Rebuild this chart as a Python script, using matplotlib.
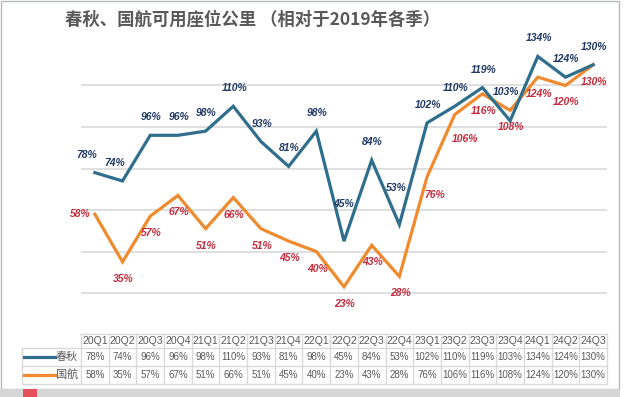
import matplotlib
matplotlib.use("Agg")
import matplotlib.pyplot as plt
from matplotlib.patches import Rectangle

plt.rcParams['font.family'] = ['Liberation Sans', 'Noto Sans CJK SC', 'DejaVu Sans']

# data (% of same quarter in 2019)
quarters = ['20Q1', '20Q2', '20Q3', '20Q4', '21Q1', '21Q2', '21Q3', '21Q4',
            '22Q1', '22Q2', '22Q3', '22Q4', '23Q1', '23Q2', '23Q3', '23Q4',
            '24Q1', '24Q2', '24Q3']
chunqiu = [78, 74, 96, 96, 98, 110, 93, 81, 98, 45, 84, 53,
           102, 110, 119, 103, 134, 124, 130]
airchina = [58, 35, 57, 67, 51, 66, 51, 45, 40, 23, 43, 28,
            76, 106, 116, 108, 124, 120, 130]
series_names = ['春秋', '国航']
title = '春秋、国航可用座位公里 （相对于2019年各季）'

W, H = 625, 397
BLUE, ORANGE = '#2F6E8D', '#F08A2E'
BLUE_TXT, RED_TXT = '#1F3864', '#C42B3C'
GRID, TXT = '#D9D9D9', '#595959'


def px_rect(x0, y0, x1, y1):
    """Figure rect from pixel box (top-left origin)."""
    return [x0 / W, 1 - y1 / H, (x1 - x0) / W, (y1 - y0) / H]


fig = plt.figure(figsize=(W / 100, H / 100), dpi=100)

# frame / background overlay in pixel coords
bg = fig.add_axes([0, 0, 1, 1], zorder=-1)
bg.set_xlim(0, W)
bg.set_ylim(H, 0)
bg.axis('off')
bg.add_patch(Rectangle((1, 1), 618, 388, fill=False, ec='#B4B9C6', lw=1))
bg.add_patch(Rectangle((0, 389), 620, 8, fc='#D6D6D6', ec='none'))
bg.add_patch(Rectangle((23, 389), 14, 8, fc='#E6505C', ec='none'))
bg.text(253, 20, title, ha='center', va='center', fontsize=12.5,
        fontweight='bold', color=TXT,
        family=['Noto Sans CJK SC', 'DejaVu Sans'])

# main plot
ax = fig.add_axes(px_rect(81, 44, 607, 334.5))
ax.patch.set_alpha(0)
x = list(range(len(quarters)))
ax.set_xlim(-0.5, len(quarters) - 0.5)
ax.set_ylim(0, 140)
for s in ax.spines.values():
    s.set_visible(False)
ax.set_xticks([])
ax.set_yticks([])
for g in [20, 40, 60, 80, 100, 120]:
    ax.axhline(g, color=GRID, lw=1.2, zorder=0)

ax.plot(x, chunqiu, color=BLUE, lw=2.3, zorder=3, solid_joinstyle='miter')
ax.plot(x, airchina, color=ORANGE, lw=2.3, zorder=2, solid_joinstyle='miter')

blue_off = {0: (-8, 18), 1: (-8, 18), 9: (0, 37), 11: (-3, 37), 15: (-4, 29)}
red_off = {0: (-15, 0), 12: (8, -18), 13: (10, -24)}
for i, v in enumerate(chunqiu):
    dx, dy = blue_off.get(i, (1, 18))
    ax.annotate(f'{v}%', (i, v), xytext=(dx, dy), textcoords='offset pixels',
                ha='center', va='center', fontsize=7.5, fontweight='bold',
                fontstyle='italic', color=BLUE_TXT)
for i, v in enumerate(airchina):
    dx, dy = red_off.get(i, (1, -17))
    ax.annotate(f'{v}%', (i, v), xytext=(dx, dy), textcoords='offset pixels',
                ha='center', va='center', fontsize=7.5, fontweight='bold',
                fontstyle='italic', color=RED_TXT)

# data table below the plot
tb = fig.add_axes(px_rect(81, 333, 607, 384), sharex=ax)
tb.set_ylim(384, 333)
tb.axis('off')
xl = -0.5 - 59 / 27.68
xr = len(quarters) - 0.5
lk = dict(color=GRID, lw=1, clip_on=False)
tb.plot([-0.5, xr], [333.5, 333.5], **lk)
for yy in [347.5, 365.5, 383.5]:
    tb.plot([xl, xr], [yy, yy], **lk)
for k in range(len(quarters) + 1):
    tb.plot([k - 0.5, k - 0.5], [333.5, 383.5], **lk)
tb.plot([xl, xl], [347.5, 383.5], **lk)

for i, q in enumerate(quarters):
    tb.text(i, 341, q, ha='center', va='center', fontsize=7.6, color=TXT,
            clip_on=False)
    tb.text(i, 357, f'{chunqiu[i]}%', ha='center', va='center', fontsize=7,
            color=TXT, clip_on=False)
    tb.text(i, 375, f'{airchina[i]}%', ha='center', va='center', fontsize=7,
            color=TXT, clip_on=False)

for yy, name, col in [(356.5, series_names[0], BLUE),
                      (374.5, series_names[1], ORANGE)]:
    tb.plot([-2.56, -1.44], [yy, yy], color=col, lw=2.3, clip_on=False)
    tb.text(-1.0, yy, name, ha='center', va='center', fontsize=8,
            color=TXT, clip_on=False)

fig.savefig('out.png', dpi=100)
